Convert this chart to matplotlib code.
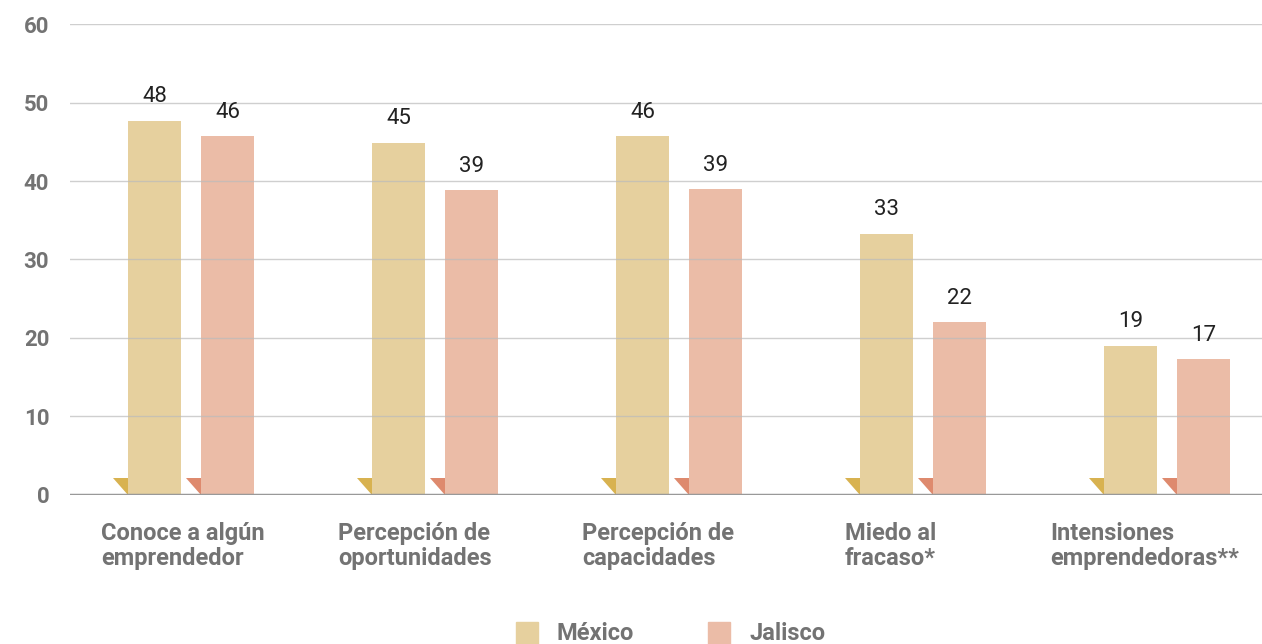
import matplotlib.pyplot as plt
import numpy as np

plt.rcParams['font.family'] = ['Roboto', 'DejaVu Sans']

# datos
categorias = ['Conoce a algún\nemprendedor', 'Percepción de\noportunidades',
              'Percepción de\ncapacidades', 'Miedo al\nfracaso*',
              'Intensiones\nemprendedoras**']
mexico = [47.7, 44.9, 45.7, 33.3, 19.0]
jalisco = [45.7, 38.8, 39.0, 22.0, 17.3]
etiq_mexico = ['48', '45', '46', '33', '19']
etiq_jalisco = ['46', '39', '39', '22', '17']
series = ['México', 'Jalisco']

col_bar = ['#E6D09E', '#EBBCA7']
col_tri = ['#D8B250', '#DE8A6E']
gris = '#737373'

fig = plt.figure(figsize=(12.62, 6.44), dpi=100)
ax = fig.add_axes([0.0555, 0.2314, 0.9445, 0.7313])

x = np.arange(len(categorias))
w = 0.217
off = 0.15

for vals, labs, dx, cb, ct in [(mexico, etiq_mexico, -off, col_bar[0], col_tri[0]),
                               (jalisco, etiq_jalisco, off, col_bar[1], col_tri[1])]:
    bars = ax.bar(x + dx, vals, width=w, color=cb, zorder=2)
    for b, lab in zip(bars, labs):
        left = b.get_x()
        # pequeño triángulo en la esquina inferior izquierda
        ax.fill([left - 0.0615, left, left], [2.17, 2.17, 0], color=ct, lw=0, zorder=2)
        ax.text(b.get_x() + b.get_width() / 2, b.get_height() + 1.7, lab,
                ha='center', va='bottom', fontsize=16, color='#222222')

ax.set_xlim(-0.496, 4.389)
ax.set_ylim(0, 60)
ax.set_yticks(range(0, 61, 10))
ax.yaxis.grid(True, color='#bbbbbb', lw=1, alpha=0.7, zorder=3)
ax.set_axisbelow(False)
ax.axhline(0, color='#999999', lw=2.5, zorder=4)
for s in ax.spines.values():
    s.set_visible(False)
ax.tick_params(axis='y', length=0, pad=15, labelsize=16, labelcolor=gris)
for t in ax.get_yticklabels():
    t.set_fontweight('bold')
ax.set_xticks([])

# etiquetas de categorías
lab_off = [-0.369, -0.398, -0.398, -0.320, -0.480]
for i, (c, o) in enumerate(zip(categorias, lab_off)):
    ax.text(i + o, -3.4, c, ha='left', va='top', fontsize=17, fontweight='bold',
            color=gris, linespacing=1.12)

# leyenda
for (lx, tx, nombre, cb) in [(516, 556, series[0], col_bar[0]), (708, 749, series[1], col_bar[1])]:
    fig.patches.append(plt.Rectangle((lx / 1262, 0), 22 / 1262, 22 / 644,
                                     transform=fig.transFigure, color=cb))
    fig.text(tx / 1262, 11 / 644, nombre, ha='left', va='center', fontsize=17,
             fontweight='bold', color=gris)

fig.savefig('out.png', dpi=100)
